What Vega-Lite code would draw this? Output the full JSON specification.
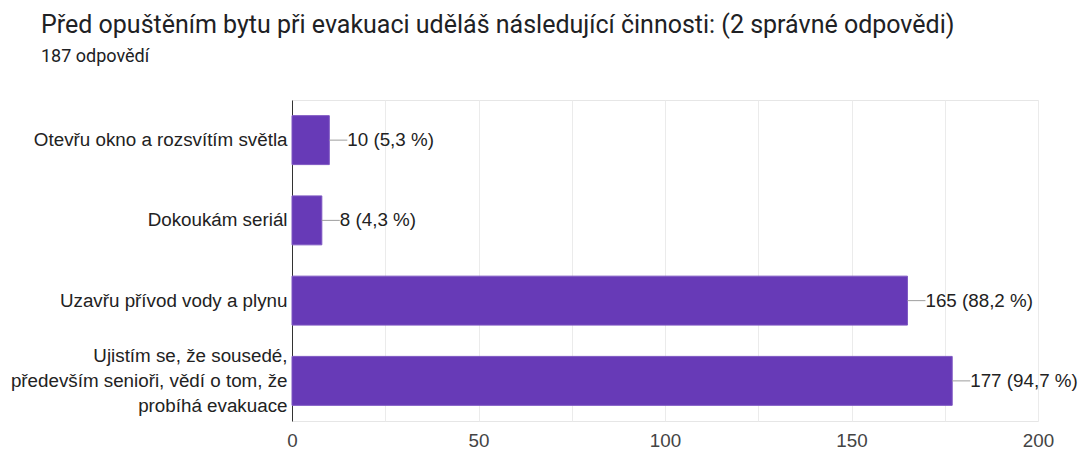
{
  "$schema": "https://vega.github.io/schema/vega-lite/v6.json",
  "width": 746,
  "height": 321,
  "autosize": {"type": "none"},
  "padding": {"left": 292, "top": 100, "right": 41, "bottom": 29},
  "background": "white",
  "title": {
    "text": "Před opuštěním bytu při evakuaci uděláš následující činnosti: (2 správné odpovědi)",
    "subtitle": "187 odpovědí",
    "anchor": "start",
    "frame": "group",
    "dx": -251,
    "offset": 34,
    "font": "Roboto",
    "fontSize": 25,
    "fontWeight": "normal",
    "color": "#202124",
    "subtitleFont": "Roboto",
    "subtitleFontSize": 18,
    "subtitleColor": "#202124",
    "subtitlePadding": 10
  },
  "config": {
    "view": {"stroke": "#e6e6e6"},
    "font": "Liberation Sans"
  },
  "data": {
    "values": [
      {"answer": "Otevřu okno a rozsvítím světla", "count": 10, "label": "10 (5,3 %)"},
      {"answer": "Dokoukám seriál", "count": 8, "label": "8 (4,3 %)"},
      {"answer": "Uzavřu přívod vody a plynu", "count": 165, "label": "165 (88,2 %)"},
      {"answer": "Ujistím se, že sousedé,|především senioři, vědí o tom, že|probíhá evakuace", "count": 177, "label": "177 (94,7 %)"}
    ]
  },
  "encoding": {
    "y": {
      "field": "answer",
      "type": "nominal",
      "sort": null,
      "scale": {"paddingInner": 0.39, "paddingOuter": 0.195},
      "axis": {
        "title": null,
        "ticks": false,
        "domainColor": "#333333",
        "labelFont": "Liberation Sans",
        "labelFontSize": 18.8,
        "labelColor": "#222222",
        "labelPadding": 5,
        "labelLimit": 320,
        "labelLineHeight": 25,
        "labelOffset": {"condition": {"test": "indexof(datum.label, '|') >= 0", "value": -25}, "value": 0},
        "labelExpr": "split(datum.label, '|')"
      }
    }
  },
  "layer": [
    {
      "mark": {"type": "bar", "color": "#673ab7", "stroke": "#7e57c2", "strokeWidth": 1},
      "encoding": {
        "x": {
          "field": "count",
          "type": "quantitative",
          "scale": {"domain": [0, 200], "nice": false},
          "axis": {
            "title": null,
            "values": [0, 25, 50, 75, 100, 125, 150, 175, 200],
            "labelExpr": "datum.value % 50 == 0 ? datum.label : ''",
            "labelFlush": false,
            "ticks": false,
            "domain": false,
            "gridColor": "#ebebeb",
            "labelFont": "Liberation Sans",
            "labelFontSize": 18.8,
            "labelColor": "#444444",
            "labelPadding": 10
          }
        }
      }
    },
    {
      "mark": {"type": "rule", "color": "#9e9e9e", "strokeWidth": 1, "x2Offset": 18},
      "encoding": {
        "x": {"field": "count", "type": "quantitative"},
        "x2": {"field": "count"}
      }
    },
    {
      "mark": {"type": "text", "align": "left", "baseline": "middle", "dx": 18, "font": "Liberation Sans", "fontSize": 18.8, "color": "#222222"},
      "encoding": {
        "x": {"field": "count", "type": "quantitative"},
        "text": {"field": "label"}
      }
    }
  ]
}
